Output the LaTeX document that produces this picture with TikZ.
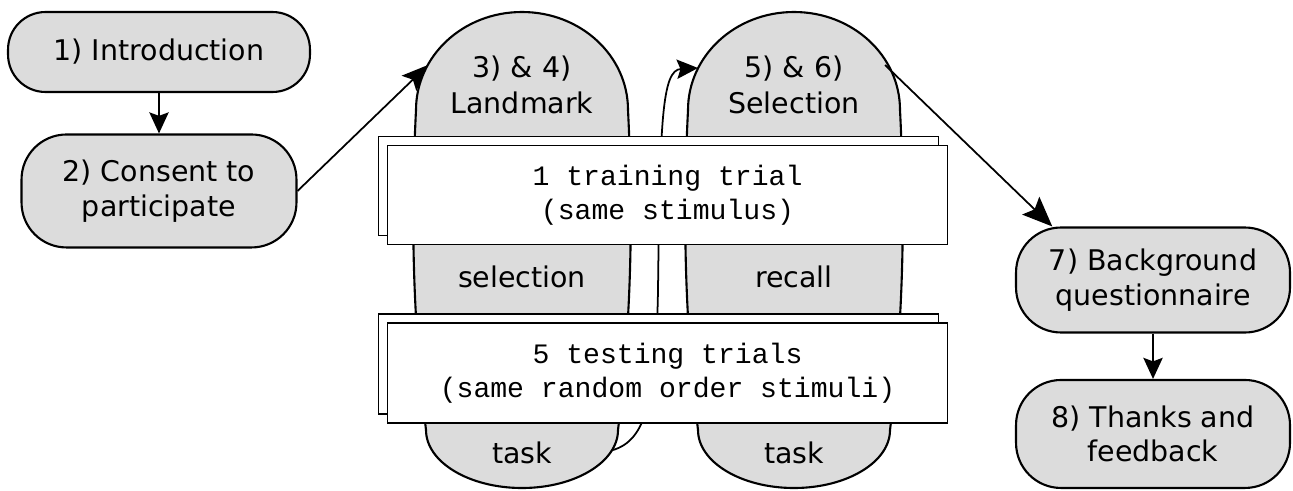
\documentclass[tikz,border=0pt]{standalone}
\usepackage{fontspec}
\setmainfont{DejaVu Sans}
\setmonofont{Liberation Mono}
\usetikzlibrary{arrows.meta, positioning, shadows}
\definecolor{stagegrey}{RGB}{220,220,220}
\tikzstyle{stage} = [rectangle, rounded corners=0.9cm, minimum width=5.5cm, minimum height=2.2cm, inner sep=0pt, align=center, draw=black, line width=1.2pt, fill=stagegrey, font=\fontsize{16.2}{19.8}\selectfont]
\tikzstyle{tall} = [draw=black, line width=1.2pt, fill=stagegrey]
\tikzstyle{trials} = [rectangle, minimum width=11.22cm, minimum height=1.98cm, inner sep=0pt, align=center, draw=black, line width=0.6pt, fill=white, copy shadow={shadow xshift=-0.18cm, shadow yshift=0.18cm, draw=black, fill=white, line width=0.6pt}, font=\ttfamily\fontsize{16}{19.4}\selectfont]
\tikzstyle{blank} = [rectangle, inner sep=0pt, align=center, font=\fontsize{16.2}{20.4}\selectfont]
\tikzstyle{arrow} = [-{Stealth[length=12pt,width=11pt,inset=2pt]}, line width=1pt]
\tikzstyle{bigarrow} = [-{Stealth[length=17pt,width=14pt,inset=3pt]}, line width=1pt]

\begin{document}
\begin{tikzpicture}[x=0.02cm, y=-0.02cm, node distance=5.44cm]
    \useasboundingbox (0,0) rectangle (1293,490);
    % left column
    \node (intro) [stage, minimum width=6.04cm, minimum height=1.6cm, rounded corners=0.75cm] at (159,52) {1) Introduction};
    \node (consent) [stage, below of=intro, node distance=2.78cm, minimum height=2.26cm] {2) Consent to\\participate};
    % the two long stages
    \foreach \dx in {0,272} {
        \draw [tall, shift={(\dx,0)}] (416,110) .. controls (416,56) and (463,12) .. (522,12)
            .. controls (581,12) and (628,56) .. (628,110)
            .. controls (634,230) and (630,330) .. (618,430)
            .. controls (618,462) and (575,488) .. (522,488)
            .. controls (469,488) and (426,462) .. (426,430)
            .. controls (414,330) and (410,230) .. (416,110) -- cycle;
    }
    \coordinate (landin) at (428,65);
    \coordinate (landout) at (613,450);
    \coordinate (selin) at (698,68);
    \coordinate (selout) at (885,65);
    \draw [arrow] (landout) .. controls (646,440) and (656,400) .. (658,290)
        .. controls (660,120) and (662,70) .. (selin);
    % trial boxes
    \node (training) [trials] at (667.5,195) {1 training trial\\(same stimulus)};
    \node (testing) [trials, minimum height=2cm] at (667.5,373) {5 testing trials\\(same random order stimuli)};
    \node (landtop) [blank] at (522,85) {3) \& 4)\\Landmark};
    \node (landmid) [blank] at (522,277) {selection};
    \node (landbot) [blank] at (522,453) {task};
    \node (seltop) [blank, right of=landtop] {5) \& 6)\\Selection};
    \node (selmid) [blank, right of=landmid] {recall};
    \node (selbot) [blank, right of=landbot] {task};
    % right column
    \node (background) [stage, minimum width=5.48cm, minimum height=2.1cm] at (1153,280) {7) Background\\questionnaire};
    \node (thanks) [stage, below of=background, node distance=3.08cm, minimum width=5.48cm, minimum height=2.16cm] {8) Thanks and\\feedback};
    \draw [arrow] (intro.south) -- (consent.north);
    \draw [arrow, -{Stealth[length=15pt,width=12pt,inset=3pt]}] (consent.east) -- (landin);
    \draw [bigarrow] (selout) -- (background.152);
    \draw [arrow] (background.south) -- (thanks.north);
\end{tikzpicture}
\end{document}
